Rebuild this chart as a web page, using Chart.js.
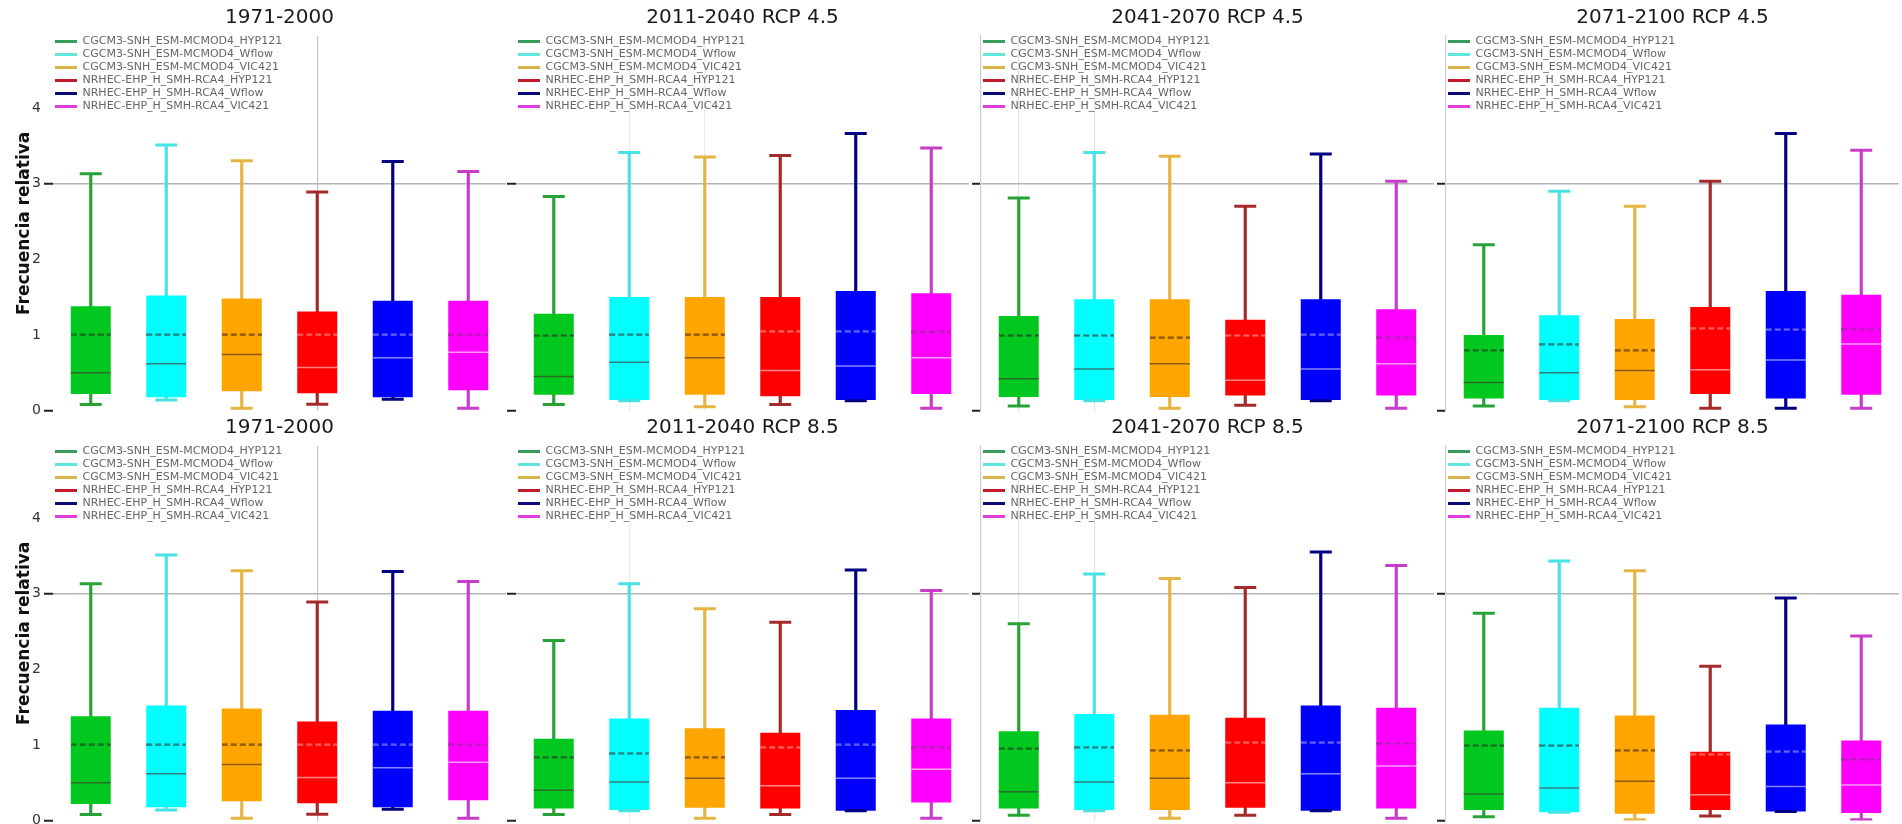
<!DOCTYPE html>
<html>
<head>
<meta charset="utf-8">
<script src="https://cdn.jsdelivr.net/npm/chart.js@4.4.1/dist/chart.umd.min.js"></script>
<style>
  body { margin: 0; background: #fff; }
  #wrap { position: relative; width: 1902px; height: 824px; overflow: hidden; }
  #wrap canvas { position: absolute; }
</style>
</head>
<body>
<div id="wrap"></div>
<script>
// model combinations (legend) - same for every panel
const models = [
    "CGCM3-SNH_ESM-MCMOD4_HYP121",
    "CGCM3-SNH_ESM-MCMOD4_Wflow",
    "CGCM3-SNH_ESM-MCMOD4_VIC421",
    "NRHEC-EHP_H_SMH-RCA4_HYP121",
    "NRHEC-EHP_H_SMH-RCA4_Wflow",
    "NRHEC-EHP_H_SMH-RCA4_VIC421"
];
const yTicks = [0, 1, 2, 3, 4];

// 1971-2000 (historical)
const hist_min  = [0.08, 0.14, 0.03, 0.085, 0.15, 0.03];
const hist_q1   = [0.22, 0.175, 0.255, 0.23, 0.175, 0.27];
const hist_med  = [0.50, 0.62, 0.74, 0.57, 0.70, 0.77];
const hist_mean = [1.00, 1.00, 1.00, 1.00, 1.00, 1.00];
const hist_q3   = [1.38, 1.52, 1.48, 1.31, 1.45, 1.45];
const hist_max  = [3.13, 3.51, 3.30, 2.89, 3.29, 3.16];

// 2011-2040 RCP 4.5
const r45a_min  = [0.08, 0.13, 0.05, 0.08, 0.13, 0.03];
const r45a_q1   = [0.21, 0.14, 0.21, 0.19, 0.14, 0.22];
const r45a_med  = [0.45, 0.64, 0.70, 0.53, 0.59, 0.70];
const r45a_mean = [0.99, 1.00, 1.00, 1.05, 1.05, 1.04];
const r45a_q3   = [1.28, 1.50, 1.50, 1.50, 1.58, 1.55];
const r45a_max  = [2.83, 3.41, 3.35, 3.37, 3.66, 3.47];

// 2041-2070 RCP 4.5
const r45b_min  = [0.06, 0.13, 0.03, 0.07, 0.13, 0.03];
const r45b_q1   = [0.18, 0.14, 0.18, 0.20, 0.14, 0.20];
const r45b_med  = [0.42, 0.55, 0.62, 0.40, 0.55, 0.62];
const r45b_mean = [0.99, 0.99, 0.96, 0.99, 1.00, 0.96];
const r45b_q3   = [1.25, 1.47, 1.47, 1.20, 1.47, 1.34];
const r45b_max  = [2.81, 3.41, 3.36, 2.70, 3.39, 3.03];

// 2071-2100 RCP 4.5
const r45c_min  = [0.06, 0.13, 0.05, 0.03, 0.03, 0.03];
const r45c_q1   = [0.16, 0.14, 0.14, 0.22, 0.16, 0.21];
const r45c_med  = [0.37, 0.50, 0.53, 0.54, 0.67, 0.88];
const r45c_mean = [0.80, 0.88, 0.80, 1.09, 1.07, 1.07];
const r45c_q3   = [1.00, 1.26, 1.21, 1.37, 1.58, 1.53];
const r45c_max  = [2.19, 2.90, 2.70, 3.03, 3.66, 3.44];

// 2011-2040 RCP 8.5
const r85a_min  = [0.08, 0.13, 0.03, 0.08, 0.13, 0.03];
const r85a_q1   = [0.16, 0.14, 0.17, 0.16, 0.13, 0.24];
const r85a_med  = [0.40, 0.51, 0.56, 0.46, 0.56, 0.68];
const r85a_mean = [0.84, 0.89, 0.84, 0.97, 1.00, 0.97];
const r85a_q3   = [1.08, 1.35, 1.22, 1.16, 1.46, 1.35];
const r85a_max  = [2.38, 3.13, 2.80, 2.62, 3.31, 3.04];

// 2041-2070 RCP 8.5
const r85b_min  = [0.07, 0.13, 0.03, 0.07, 0.13, 0.03];
const r85b_q1   = [0.16, 0.14, 0.14, 0.17, 0.13, 0.16];
const r85b_med  = [0.38, 0.51, 0.56, 0.50, 0.62, 0.72];
const r85b_mean = [0.95, 0.97, 0.93, 1.03, 1.03, 1.02];
const r85b_q3   = [1.18, 1.41, 1.40, 1.36, 1.52, 1.49];
const r85b_max  = [2.60, 3.26, 3.20, 3.08, 3.55, 3.37];

// 2071-2100 RCP 8.5
const r85c_min  = [0.05, 0.11, 0.01, 0.06, 0.12, 0.01];
const r85c_q1   = [0.14, 0.11, 0.09, 0.14, 0.12, 0.10];
const r85c_med  = [0.35, 0.43, 0.52, 0.34, 0.45, 0.47];
const r85c_mean = [0.99, 0.99, 0.93, 0.88, 0.91, 0.81];
const r85c_q3   = [1.19, 1.49, 1.39, 0.91, 1.27, 1.06];
const r85c_max  = [2.74, 3.43, 3.30, 2.04, 2.94, 2.44];

const boxColors     = ["#00c81e", "#00ffff", "#ffa500", "#ff0000", "#0000ff", "#ff00ff"];
const whiskerColors = ["#26a336", "#48e2e2", "#e6b443", "#a52a2a", "#000080", "#c83cc8"];
const medianColors  = ["#2a6e2a", "#2f7f7f", "#8b5a14", "#ff8585", "#8484ff", "#ff9cff"];
const meanColors    = ["#1f5f1f", "#2a6f6f", "#7a4a0a", "#ff6a6a", "#7070ff", "#b020b0"];
const legendColors  = ["#3a9b5c", "#5fe6de", "#d9b44a", "#c21a2a", "#0a0a78", "#e23be2"];

// dashed line glyphs for the mean markers
function dashImage(color) {
    const c = document.createElement("canvas");
    c.width = 40; c.height = 3;
    const g = c.getContext("2d");
    g.strokeStyle = color;
    g.lineWidth = 2;
    g.setLineDash([6, 3]);
    g.beginPath();
    g.moveTo(0, 1.5);
    g.lineTo(40, 1.5);
    g.stroke();
    return c;
}
const meanImages = meanColors.map(dashImage);

// the chartArea legend loses its top offset in vertical mode, put it back
const legendInArea = {
    id: "legendInArea",
    afterLayout(chart) {
        const l = chart.legend;
        if (!l) return;
        const dy = chart.chartArea.top - 2 - l.top;
        l.top += dy;
        l.bottom += dy;
    }
};

const wrap = document.getElementById("wrap");

function makePanel(p) {
    const cv = document.createElement("canvas");
    cv.width = p.first ? 506 : 467;
    cv.height = 422;
    cv.style.left = p.left + "px";
    cv.style.top = p.top + "px";
    wrap.appendChild(cv);

    new Chart(cv, {
        type: "bar",
        plugins: [legendInArea],
        data: {
            labels: models,
            datasets: [
                {
                    data: p.min.map((v, i) => [v, p.max[i]]),
                    backgroundColor: whiskerColors,
                    barThickness: 2.5,
                    grouped: false,
                    order: 5
                },
                {
                    data: p.q1.map((v, i) => [v, p.q3[i]]),
                    backgroundColor: boxColors,
                    barPercentage: 0.53,
                    categoryPercentage: 1,
                    grouped: false,
                    order: 4
                },
                {
                    type: "line", data: p.max, showLine: false,
                    pointStyle: "line", pointRadius: 11, pointBorderWidth: 3,
                    pointBorderColor: whiskerColors, order: 3
                },
                {
                    type: "line", data: p.min, showLine: false,
                    pointStyle: "line", pointRadius: 11, pointBorderWidth: 3,
                    pointBorderColor: whiskerColors, order: 3
                },
                {
                    type: "line", data: p.med, showLine: false,
                    pointStyle: "line", pointRadius: 20, pointBorderWidth: 1.5,
                    pointBorderColor: medianColors, order: 2
                },
                {
                    type: "line", data: p.mean, showLine: false,
                    pointStyle: meanImages, pointRadius: 20, order: 1
                }
            ]
        },
        options: {
            responsive: false,
            animation: false,
            layout: { autoPadding: false, padding: { top: 0, bottom: 3, left: 0, right: 0 } },
            plugins: {
                title: {
                    display: true,
                    text: p.title,
                    fullSize: false,
                    color: "#1a1a1a",
                    font: { family: "DejaVu Sans", size: 20, weight: "normal" },
                    padding: { top: 6, bottom: 6 }
                },
                legend: {
                    position: "chartArea",
                    align: "start",
                    onClick: null,
                    labels: {
                        usePointStyle: true,
                        pointStyleWidth: 22,
                        color: "#666",
                        padding: 2,
                        font: { family: "DejaVu Sans", size: 11 },
                        generateLabels: () => models.map((m, i) => ({
                            text: m,
                            strokeStyle: legendColors[i],
                            fillStyle: legendColors[i],
                            fontColor: "#666",
                            lineWidth: 3,
                            pointStyle: "line",
                            hidden: false,
                            datasetIndex: 0
                        }))
                    }
                },
                tooltip: { enabled: false }
            },
            scales: {
                x: {
                    ticks: { display: false },
                    border: { display: false },
                    grid: {
                        offset: false,
                        drawTicks: false,
                        lineWidth: 1.2,
                        color: (c) => p.vgrid.includes(c.index) ? p.vgridColor : "transparent"
                    },
                    afterFit: (s) => { s.height = 0; }
                },
                y: {
                    min: 0,
                    max: 4.95,
                    afterBuildTicks: (s) => { s.ticks = yTicks.map(v => ({ value: v })); },
                    afterFit: (s) => { s.width = p.first ? 53 : 14; },
                    ticks: {
                        padding: 3,
                        color: "#333",
                        font: { family: "DejaVu Sans", size: 14 },
                        callback: (v) => p.first ? v : ""
                    },
                    border: { display: p.spine, color: "#cfcfcf", width: 1.2 },
                    grid: {
                        lineWidth: 1.5,
                        tickLength: 9,
                        tickWidth: 2,
                        color: (c) => (c.tick && c.tick.value === 3) ? "#b4b4b4" : "transparent",
                        tickColor: (c) => (c.tick && (c.tick.value === 0 || c.tick.value === 3)) ? "#222" : "transparent"
                    },
                    title: {
                        display: p.first,
                        text: "Frecuencia relativa",
                        color: "#111",
                        font: { family: "DejaVu Sans", size: 17, weight: "bold" },
                        padding: { top: 14, bottom: 0 }
                    }
                }
            }
        }
    });
}

const panels = [
    { title: "1971-2000", min: hist_min, q1: hist_q1, med: hist_med, mean: hist_mean, q3: hist_q3, max: hist_max,
      left: 0, top: 0, first: true, spine: false, vgrid: [3], vgridColor: "#c4c4c4" },
    { title: "2011-2040 RCP 4.5", min: r45a_min, q1: r45a_q1, med: r45a_med, mean: r45a_mean, q3: r45a_q3, max: r45a_max,
      left: 502, top: 0, first: false, spine: false, vgrid: [1, 2], vgridColor: "#ececec" },
    { title: "2041-2070 RCP 4.5", min: r45b_min, q1: r45b_q1, med: r45b_med, mean: r45b_mean, q3: r45b_q3, max: r45b_max,
      left: 967, top: 0, first: false, spine: true, vgrid: [0, 1], vgridColor: "#e2e2e2" },
    { title: "2071-2100 RCP 4.5", min: r45c_min, q1: r45c_q1, med: r45c_med, mean: r45c_mean, q3: r45c_q3, max: r45c_max,
      left: 1432, top: 0, first: false, spine: true, vgrid: [], vgridColor: "#e2e2e2" },
    { title: "1971-2000", min: hist_min, q1: hist_q1, med: hist_med, mean: hist_mean, q3: hist_q3, max: hist_max,
      left: 0, top: 410, first: true, spine: false, vgrid: [3], vgridColor: "#c4c4c4" },
    { title: "2011-2040 RCP 8.5", min: r85a_min, q1: r85a_q1, med: r85a_med, mean: r85a_mean, q3: r85a_q3, max: r85a_max,
      left: 502, top: 410, first: false, spine: false, vgrid: [1], vgridColor: "#ececec" },
    { title: "2041-2070 RCP 8.5", min: r85b_min, q1: r85b_q1, med: r85b_med, mean: r85b_mean, q3: r85b_q3, max: r85b_max,
      left: 967, top: 410, first: false, spine: true, vgrid: [0, 1], vgridColor: "#e2e2e2" },
    { title: "2071-2100 RCP 8.5", min: r85c_min, q1: r85c_q1, med: r85c_med, mean: r85c_mean, q3: r85c_q3, max: r85c_max,
      left: 1432, top: 410, first: false, spine: true, vgrid: [], vgridColor: "#e2e2e2" }
];

panels.forEach(makePanel);
</script>
</body>
</html>
